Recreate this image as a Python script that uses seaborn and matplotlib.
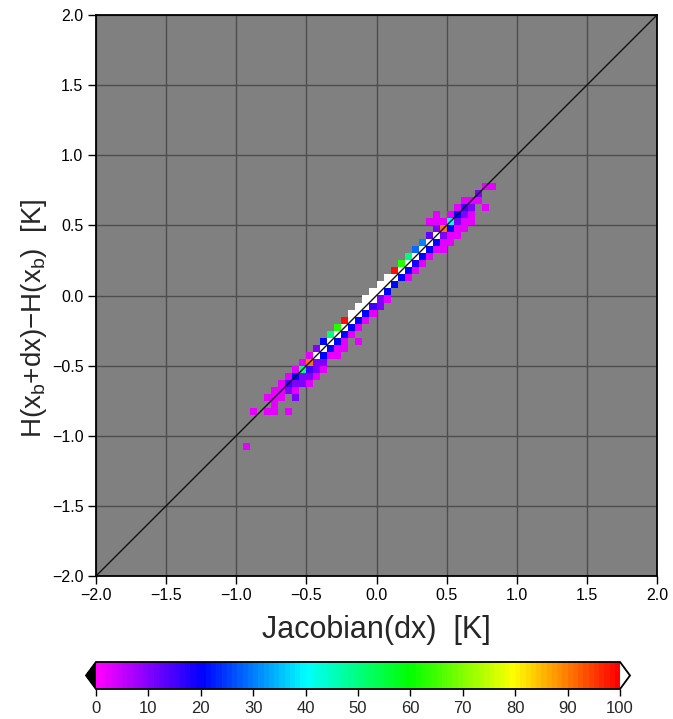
import numpy as np
import matplotlib
matplotlib.use("Agg")
import matplotlib.pyplot as plt
from matplotlib.colors import LinearSegmentedColormap, Normalize
from matplotlib.cm import ScalarMappable
import seaborn as sns

# ---- data: 2-D histogram cells (bin centres, bin width 0.05 K) and counts ----
MAG, PUR, PB, BLU, LB, CY, GC, GR, ORG, RED, WHT = 2, 10, 15, 20, 30, 40, 50, 62, 90, 98, 150

cell_x = [
    0.775, 0.825,
    0.725,
    0.625, 0.675, 0.725,
    0.575, 0.625, 0.675, 0.775,
    0.425, 0.525, 0.575, 0.625, 0.675,
    0.375, 0.425, 0.475, 0.525, 0.575, 0.625, 0.675,
    0.425, 0.475, 0.525, 0.575, 0.625,
    0.375, 0.425, 0.475, 0.525, 0.575,
    0.325, 0.375, 0.425, 0.475, 0.525,
    0.275, 0.325, 0.375, 0.425, 0.475,
    0.225, 0.275, 0.325, 0.375,
    0.175, 0.225, 0.275, 0.325,
    0.125, 0.175, 0.225, 0.275,
    0.075, 0.125, 0.175, 0.225,
    0.025, 0.075, 0.125,
    -0.025, 0.025, 0.075,
    -0.075, -0.025, 0.025, 0.075,
    -0.125, -0.075, -0.025, 0.025,
    -0.175, -0.125, -0.075, -0.025,
    -0.225, -0.175, -0.125, -0.075,
    -0.275, -0.225, -0.175, -0.125,
    -0.325, -0.275, -0.225, -0.175,
    -0.375, -0.325, -0.275, -0.225, -0.125,
    -0.425, -0.375, -0.325, -0.275, -0.225,
    -0.475, -0.425, -0.375, -0.325, -0.275,
    -0.525, -0.475, -0.425, -0.375,
    -0.575, -0.525, -0.475, -0.425, -0.375,
    -0.625, -0.575, -0.525, -0.475, -0.425,
    -0.675, -0.625, -0.575, -0.525, -0.475,
    -0.725, -0.675, -0.625, -0.575,
    -0.775, -0.725, -0.675, -0.575,
    -0.725,
    -0.875, -0.775, -0.725, -0.625,
    -0.925,
]
cell_y = [
    0.775, 0.775,
    0.725,
    0.675, 0.675, 0.675,
    0.625, 0.625, 0.625, 0.625,
    0.575, 0.575, 0.575, 0.575, 0.575,
    0.525, 0.525, 0.525, 0.525, 0.525, 0.525, 0.525,
    0.475, 0.475, 0.475, 0.475, 0.475,
    0.425, 0.425, 0.425, 0.425, 0.425,
    0.375, 0.375, 0.375, 0.375, 0.375,
    0.325, 0.325, 0.325, 0.325, 0.325,
    0.275, 0.275, 0.275, 0.275,
    0.225, 0.225, 0.225, 0.225,
    0.175, 0.175, 0.175, 0.175,
    0.125, 0.125, 0.125, 0.125,
    0.075, 0.075, 0.075,
    0.025, 0.025, 0.025,
    -0.025, -0.025, -0.025, -0.025,
    -0.075, -0.075, -0.075, -0.075,
    -0.125, -0.125, -0.125, -0.125,
    -0.175, -0.175, -0.175, -0.175,
    -0.225, -0.225, -0.225, -0.225,
    -0.275, -0.275, -0.275, -0.275,
    -0.325, -0.325, -0.325, -0.325, -0.325,
    -0.375, -0.375, -0.375, -0.375, -0.375,
    -0.425, -0.425, -0.425, -0.425, -0.425,
    -0.475, -0.475, -0.475, -0.475,
    -0.525, -0.525, -0.525, -0.525, -0.525,
    -0.575, -0.575, -0.575, -0.575, -0.575,
    -0.625, -0.625, -0.625, -0.625, -0.625,
    -0.675, -0.675, -0.675, -0.675,
    -0.725, -0.725, -0.725, -0.725,
    -0.775,
    -0.825, -0.825, -0.825, -0.825,
    -1.075,
]
cell_count = [
    MAG, MAG,
    PUR,
    MAG, MAG, MAG,
    MAG, PB, PUR, MAG,
    MAG, MAG, BLU, PUR, MAG,
    MAG, MAG, MAG, CY, PUR, MAG, MAG,
    PUR, ORG, BLU, MAG, MAG,
    12, WHT, PUR, MAG, MAG,
    LB, WHT, BLU, MAG, MAG,
    28, WHT, BLU, MAG, MAG,
    GC, WHT, BLU, MAG,
    GR, WHT, 18, MAG,
    RED, WHT, BLU, MAG,
    WHT, WHT, BLU, MAG,
    WHT, WHT, BLU,
    WHT, WHT, BLU,
    WHT, WHT, PUR, MAG,
    WHT, WHT, PB, PUR,
    WHT, WHT, BLU, MAG,
    RED, WHT, BLU, MAG,
    GR, WHT, BLU, MAG,
    GC, WHT, BLU, MAG,
    BLU, WHT, BLU, MAG, MAG,
    PUR, WHT, BLU, MAG, MAG,
    MAG, WHT, BLU, MAG, MAG,
    MAG, ORG, PUR, PUR,
    MAG, GC, PB, PUR, MAG,
    MAG, BLU, PUR, PUR, MAG,
    MAG, PB, PUR, PUR, MAG,
    MAG, MAG, PUR, MAG,
    MAG, MAG, MAG, PUR,
    MAG,
    MAG, MAG, MAG, MAG,
    MAG,
]

cbar_ticks = [0, 10, 20, 30, 40, 50, 60, 70, 80, 90, 100]
axis_ticks = [-2.0, -1.5, -1.0, -0.5, 0.0, 0.5, 1.0, 1.5, 2.0]

# ---- style ----
sns.set_style("ticks")
plt.rcParams["font.family"] = ["Liberation Sans", "DejaVu Sans"]
plt.rcParams["mathtext.fontset"] = "custom"
plt.rcParams["mathtext.rm"] = "Liberation Sans"
plt.rcParams["mathtext.it"] = "Liberation Sans:italic"
plt.rcParams["axes.unicode_minus"] = True

cmap = LinearSegmentedColormap.from_list(
    "gmt_rainbow",
    ["#ff00ff", "#0000ff", "#00ffff", "#00ff00", "#ffff00", "#ff0000"],
    N=100,
)
cmap.set_over("white")
cmap.set_under("black")

fig = plt.figure(figsize=(6.73, 7.19), dpi=100)
ax = fig.add_axes([96 / 673, 1 - 576 / 719, 561 / 673, 561 / 719])
ax.set_facecolor("#808080")
ax.set_axisbelow(True)

sns.histplot(
    x=cell_x, y=cell_y, weights=cell_count,
    binwidth=0.05, binrange=((-2, 2), (-2, 2)),
    cmap=cmap, vmin=0, vmax=100, thresh=0, ax=ax,
)

ax.plot([-2, 2], [-2, 2], color="#111111", lw=1.0, zorder=3)

ax.set_xlim(-2, 2)
ax.set_ylim(-2, 2)
ax.set_xticks(axis_ticks)
ax.set_yticks(axis_ticks)
ax.set_xticklabels([f"{t:.1f}".replace("-", "\u2212") for t in axis_ticks])
ax.set_yticklabels([f"{t:.1f}".replace("-", "\u2212") for t in axis_ticks])
ax.grid(True, color="#4d4d4d", lw=1.0)
ax.tick_params(direction="out", length=6, width=1.0, labelsize=11.5,
               color="black", labelcolor="black", pad=3)
for s in ax.spines.values():
    s.set_visible(True)
    s.set_color("black")
    s.set_linewidth(1.3)

ax.set_xlabel("Jacobian(dx)  [K]", fontsize=22, labelpad=8)
ax.set_ylabel(r"H(x$_\mathrm{b}$+dx)$-$H(x$_\mathrm{b}$)  [K]", fontsize=20, labelpad=4)
ax.yaxis.set_label_coords(-0.083, 0.46)

# ---- colorbar ----
cax = fig.add_axes([86 / 673, 1 - 689 / 719, 544 / 673, 27 / 719])
sm = ScalarMappable(norm=Normalize(0, 100), cmap=cmap)
cb = fig.colorbar(sm, cax=cax, orientation="horizontal", extend="both",
                  extendfrac=0.019, ticks=cbar_ticks)
cb.outline.set_linewidth(1.3)
cb.outline.set_edgecolor("black")
cax.tick_params(length=5, width=1.0, labelsize=12, direction="out", color="black")

fig.savefig("out.png", dpi=100)
